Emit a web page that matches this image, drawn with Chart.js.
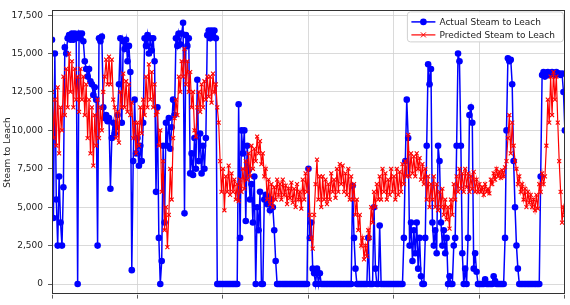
<!DOCTYPE html>
<html><head><meta charset="utf-8">
<script src="https://cdn.jsdelivr.net/npm/chart.js@4.4.0/dist/chart.umd.min.js"></script>
<style>html,body{margin:0;padding:0;background:#fff;}#wrap{width:570px;height:305px;position:relative;}</style>
</head><body><div id="wrap"><canvas id="c" width="570" height="305"></canvas></div>
<script>
const actualLabel = 'Actual Steam to Leach';
const predictedLabel = 'Predicted Steam to Leach';
const yAxisTitle = 'Steam to Leach';
const yTickValues = [0, 2500, 5000, 7500, 10000, 12500, 15000, 17500];
const xTickValues = [0, 60, 120, 180, 240, 300, 360];

const actual = [
 15900, 4300, 15000, 5500, 2500, 7000, 4000, 2500, 6300, 15400,
 15000, 16000, 16200, 15900, 16300, 15900, 16300, 16000, 0, 16300,
 16000, 16300, 15800, 14500, 14000, 13500, 14000, 13200, 13000, 12300,
 12800, 12000, 2500, 16000, 15800, 16100, 11500, 10800, 11000, 10600,
 10800, 6200, 9500, 10500, 9800, 10200, 11000, 13000, 16000, 10500,
 15800, 15300, 15900, 14500, 15500, 13800, 900, 8000, 12000, 8500,
 9500, 7700, 9000, 8000, 10500, 16000, 15500, 16200, 15000, 16000,
 15200, 16000, 14500, 6000, 11500, 3000, 0, 1500, 9000, 4000,
 10500, 9000, 10800, 8800, 10200, 12000, 11000, 16000, 15500, 16300,
 15600, 16300, 17000, 4600, 16200, 15500, 16000, 7200, 8500, 7100,
 9500, 7500, 13300, 8000, 9800, 7200, 9000, 7500, 9500, 16200,
 16500, 16000, 16500, 16200, 16500, 16000, 0, 0, 0, 0,
 0, 0, 0, 0, 0, 0, 0, 0, 0, 0,
 0, 11700, 3000, 10000, 8500, 10000, 4100, 9000, 7400, 5500,
 6500, 4000, 7000, 0, 5000, 3500, 6000, 0, 0, 5500,
 5800, 5200, 5600, 4800, 5500, 5000, 3500, 1500, 0, 0,
 0, 0, 0, 0, 0, 0, 0, 0, 0, 0,
 0, 0, 0, 0, 0, 0, 0, 0, 0, 0,
 7500, 3000, 4000, 1000, 700, 0, 1000, 0, 700, 0,
 0, 0, 0, 0, 0, 0, 0, 0, 0, 0,
 0, 0, 0, 0, 0, 0, 0, 0, 0, 0,
 0, 6400, 3000, 1000, 0, 0, 0, 0, 0, 0,
 0, 0, 3000, 0, 0, 0, 5000, 1000, 0, 0,
 3800, 0, 0, 0, 0, 0, 0, 0, 0, 0,
 0, 0, 0, 0, 0, 0, 0, 3000, 8000, 12000,
 9500, 2500, 4000, 1500, 3500, 2000, 4000, 1000, 3000, 500,
 0, 0, 3000, 9000, 14300, 13000, 14000, 4000, 2500, 3500,
 2000, 9000, 8000, 4000, 2500, 3500, 2000, 3000, 0, 500,
 0, 0, 2500, 3000, 9000, 15000, 14500, 9000, 2000, 0,
 1000, 0, 3000, 11000, 11500, 10500, 1000, 2000, 800, 0,
 0, 0, 0, 0, 300, 0, 0, 0, 0, 0,
 500, 200, 0, 0, 0, 0, 0, 0, 3000, 10000,
 14700, 14500, 14600, 13000, 8000, 5000, 2500, 1000, 0, 0,
 0, 0, 0, 0, 0, 0, 0, 0, 0, 0,
 0, 0, 0, 7000, 13600, 13800, 13500, 13700, 13800, 13600,
 13700, 13800, 13700, 13600, 13800, 13700, 13700, 13600, 13700, 12500,
 10000
];

const predicted = [
 12500, 9500, 12000, 9000, 12800, 8500, 11500, 10000, 13500, 11000,
 14000, 11500, 15000, 12500, 14500, 11500, 14000, 12000, 13500, 11200,
 14000, 12000, 13500, 11000, 13000, 9500, 12000, 8500, 11500, 7700,
 11000, 9000, 12000, 9500, 11500, 10000, 12500, 13500, 14600, 13000,
 14800, 13000, 14600, 12000, 11500, 9500, 11200, 9200, 12500, 11500,
 13700, 11500, 13200, 11200, 13000, 11000, 11800, 9500, 10500, 8500,
 10500, 9000, 11500, 9800, 12000, 11000, 13500, 11500, 14300, 12000,
 13800, 11500, 13000, 11000, 11200, 9000, 10000, 6000, 8000, 3500,
 5000, 2400, 4500, 7500, 5500, 9500, 10800, 12000, 11000, 13500,
 12500, 14500, 13500, 15300, 13000, 14500, 12500, 13800, 11500, 12500,
 10000, 9600, 11500, 12500, 11200, 13000, 11500, 13200, 12000, 13500,
 12200, 13500, 11800, 13700, 12500, 13000, 11500, 10500, 8000, 6000,
 7500, 4800, 7000, 6000, 7700, 5800, 7200, 6000, 6800, 5500,
 6500, 5400, 6800, 6000, 7500, 6200, 8000, 6800, 8500, 7000,
 9000, 7500, 8800, 8000, 9600, 8500, 9300, 7800, 8500, 7000,
 7500, 5500, 6800, 5200, 6500, 5000, 6300, 5500, 6800, 5800,
 6500, 5500, 6800, 5800, 6400, 5200, 6200, 5600, 6600, 5300,
 6200, 5000, 6500, 5500, 6000, 4900, 6800, 5500, 7200, 6000,
 7500, 4500, 3000, 2300, 4500, 6500, 8100, 5500, 7000, 5000,
 7000, 5500, 6800, 5200, 6500, 5500, 7200, 6000, 6800, 5600,
 7500, 6000, 7800, 6500, 7700, 6000, 7200, 5800, 7500, 5500,
 7000, 5500, 6500, 4500, 5500, 3500, 4500, 2500, 3000, 1600,
 2500, 1800, 3500, 3000, 5000, 4000, 6000, 5000, 6500, 5500,
 7000, 5500, 7500, 6000, 7200, 5500, 6800, 5800, 7500, 6000,
 7000, 5500, 7500, 5800, 7300, 6000, 7800, 6500, 8000, 7000,
 9700, 7000, 8500, 7200, 8300, 7000, 8500, 7500, 8200, 6800,
 7800, 6500, 7500, 5500, 7000, 5000, 6500, 5500, 7000, 5000,
 6500, 4800, 6000, 5000, 6200, 4500, 5500, 4200, 5000, 3600,
 5500, 4500, 6500, 5500, 7000, 6000, 7500, 6200, 7200, 6000,
 7500, 6300, 7200, 6000, 7000, 6200, 7300, 6000, 6800, 6000,
 6500, 6000, 6300, 5800, 6500, 6000, 6200, 5900, 6800, 6500,
 7200, 6800, 7500, 7000, 7300, 6900, 7400, 7000, 7600, 8000,
 9500, 11000, 8500, 10500, 9000, 8000, 7500, 6500, 7000, 6000,
 6500, 5500, 6200, 5000, 6000, 5300, 5800, 5000, 5500, 4800,
 5800, 4900, 6500, 6000, 7200, 6500, 7000, 9000, 12000, 10500,
 13500, 11000, 13800, 12000, 13500, 10500, 8000, 6000, 4000, 5000,
 4500
];

const timeIndex = actual.map((_, i) => i);

const FONT = 'DejaVu Sans';

const framePlugin = {
  id: 'frame',
  afterDatasetsDraw(chart) {
    const a = chart.chartArea, ctx = chart.ctx;
    ctx.save();
    ctx.strokeStyle = '#333333';
    ctx.lineWidth = 1;
    ctx.strokeRect(Math.round(a.left) + 0.5, Math.round(a.top) + 0.5,
                   Math.round(a.right - a.left) - 1, Math.round(a.bottom - a.top) - 1);
    ctx.restore();
  }
};

const legendPlugin = {
  id: 'boxLegend',
  afterDraw(chart) {
    const a = chart.chartArea, ctx = chart.ctx;
    const w = 156, h = 30;
    const x = a.right - w - 1.5, y = a.top + 1.5;
    ctx.save();
    const r = 3;
    ctx.beginPath();
    ctx.moveTo(x + r, y);
    ctx.lineTo(x + w - r, y); ctx.quadraticCurveTo(x + w, y, x + w, y + r);
    ctx.lineTo(x + w, y + h - r); ctx.quadraticCurveTo(x + w, y + h, x + w - r, y + h);
    ctx.lineTo(x + r, y + h); ctx.quadraticCurveTo(x, y + h, x, y + h - r);
    ctx.lineTo(x, y + r); ctx.quadraticCurveTo(x, y, x + r, y);
    ctx.closePath();
    ctx.fillStyle = 'rgba(255,255,255,0.85)';
    ctx.fill();
    ctx.strokeStyle = '#d0d0d0';
    ctx.lineWidth = 1;
    ctx.stroke();

    const ds = chart.data.datasets;
    const rows = [y + 10, y + 23];
    ds.forEach((d) => {
      const cy = rows[d.legendRow];
      const lx1 = x + 4, lx2 = x + 28, mx = (lx1 + lx2) / 2;
      ctx.strokeStyle = d.borderColor;
      ctx.lineWidth = d.borderWidth;
      ctx.beginPath(); ctx.moveTo(lx1, cy); ctx.lineTo(lx2, cy); ctx.stroke();
      if (d.pointStyle === 'circle') {
        ctx.fillStyle = d.pointBackgroundColor;
        ctx.beginPath(); ctx.arc(mx, cy, 3.3, 0, Math.PI * 2); ctx.fill();
      } else {
        ctx.strokeStyle = d.pointBorderColor;
        ctx.lineWidth = 1;
        ctx.beginPath();
        ctx.moveTo(mx - 2.5, cy - 2.5); ctx.lineTo(mx + 2.5, cy + 2.5);
        ctx.moveTo(mx + 2.5, cy - 2.5); ctx.lineTo(mx - 2.5, cy + 2.5);
        ctx.stroke();
      }
      ctx.fillStyle = '#222222';
      ctx.font = '9px "' + FONT + '"';
      ctx.textBaseline = 'middle';
      ctx.textAlign = 'left';
      ctx.fillText(d.label, x + 32, cy + 0.5);
    });
    ctx.restore();
  }
};

new Chart(document.getElementById('c'), {
  type: 'line',
  data: {
    datasets: [
      {
        label: predictedLabel,
        legendRow: 1,
        data: predicted.map((v, i) => ({ x: timeIndex[i], y: v })),
        borderColor: '#ff0000',
        backgroundColor: '#ff0000',
        borderWidth: 1.2,
        pointStyle: 'crossRot',
        pointRadius: 2.8,
        pointBorderColor: '#ff0000',
        pointBackgroundColor: '#ff0000',
        pointBorderWidth: 1.1,
        order: 0
      },
      {
        label: actualLabel,
        legendRow: 0,
        data: actual.map((v, i) => ({ x: timeIndex[i], y: v })),
        borderColor: '#0000ff',
        backgroundColor: '#0000ff',
        borderWidth: 1.5,
        pointStyle: 'circle',
        pointRadius: 3.3,
        pointBorderWidth: 0,
        pointBackgroundColor: '#0000ff',
        pointBorderColor: '#0000ff',
        order: 1
      }
    ]
  },
  options: {
    responsive: false,
    animation: false,
    devicePixelRatio: 1,
    elements: { line: { tension: 0 } },
    layout: { padding: { top: 2, right: 4, left: 0, bottom: 0 } },
    plugins: { legend: { display: false }, tooltip: { enabled: false } },
    scales: {
      x: {
        type: 'linear', min: 0, max: 360,
        afterBuildTicks: s => { s.ticks = xTickValues.map(v => ({ value: v })); },
        afterFit: s => { s.height = 8; },
        ticks: { display: false },
        grid: { color: '#d0d0d0', lineWidth: 0.8, tickLength: 4, tickColor: '#333333' },
        border: { display: false }
      },
      y: {
        type: 'linear', min: -690, max: 17810,
        afterBuildTicks: s => { s.ticks = yTickValues.map(v => ({ value: v })); },
        afterFit: s => { s.width = 52; },
        ticks: { font: { family: FONT, size: 9 }, color: '#222222', padding: 5 },
        grid: { color: '#d0d0d0', lineWidth: 0.8, tickLength: 4, tickColor: '#333333' },
        border: { display: false },
        title: { display: true, text: yAxisTitle, font: { family: FONT, size: 9 }, color: '#222222', padding: { top: 2, bottom: 0 } }
      }
    }
  },
  plugins: [framePlugin, legendPlugin]
});
</script>
</body></html>
